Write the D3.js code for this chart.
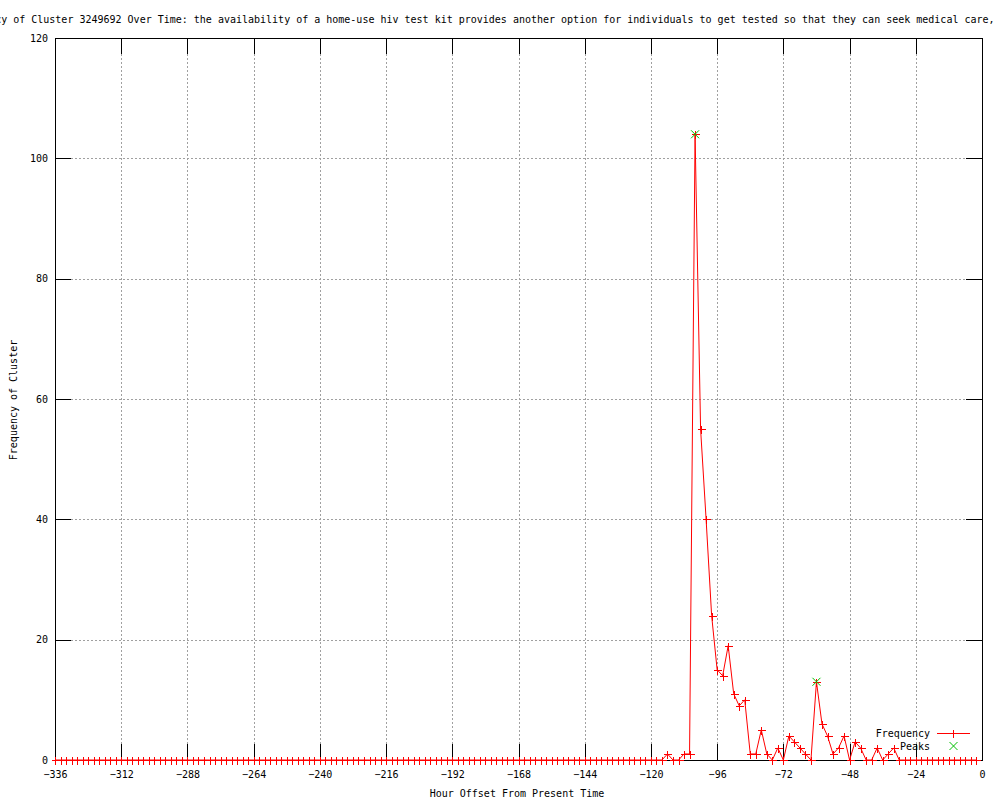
<!DOCTYPE html>
<html lang="en">
<head>
<meta charset="UTF-8">
<script src="https://d3js.org/d3.v7.min.js"></script>
<style>
  body { margin: 0; background: #fff; }
  svg text { font-family: "DejaVu Sans Mono", monospace; font-size: 10px; fill: #000; }
</style>
</head>
<body>
<div id="chart"></div>
<script>
// hours run from -336 to 0 in 2-hour bins
const hours = d3.range(-336, 1, 2);

// frequency per bin (169 values)
const freq = [
  0,0,0,0,0,0,0,0,0,0,0,0,0,0,0,0,0,0,0,0,0,0,0,0,0,0,0,0,0,0,0,0,0,0,0,0,0,0,0,0,   // -336 .. -258
  0,0,0,0,0,0,0,0,0,0,0,0,0,0,0,0,0,0,0,0,0,0,0,0,0,0,0,0,0,0,0,0,0,0,0,0,0,0,0,0,   // -256 .. -178
  0,0,0,0,0,0,0,0,0,0,0,0,0,0,0,0,0,0,0,0,0,0,0,0,0,0,0,0,0,0,0,                     // -176 .. -116
  1,0,0,1,1,104,55,40,24,15,14,19,11,9,10,1,1,5,1,0,2,0,4,3,2,1,0,                    // -114 .. -62
  13,6,4,1,2,4,0,3,2,0,0,2,0,1,2,0,                                                    // -60 .. -30
  0,0,0,0,0,0,0,0,0,0,0,0,0,0                                                          // -28 .. 0
];

const peakHours = [-104, -60];
const peakValues = [104, 13];

const xTicks = [-336, -312, -288, -264, -240, -216, -192, -168, -144, -120, -96, -72, -48, -24, 0];
const yTicks = [0, 20, 40, 60, 80, 100, 120];

const title = "Frequency of Cluster 3249692 Over Time: the availability of a home-use hiv test kit provides another option for individuals to get tested so that they can seek medical care, including treatment";

const width = 1000, height = 800;
const plotL = 55, plotR = 982, plotT = 38, plotB = 760;
const tickLen = 16;

const svg = d3.select("#chart").append("svg")
  .attr("width", width)
  .attr("height", height);

const x = d3.scaleLinear().domain([-336, 0]).range([plotL, plotR]);
const y = d3.scaleLinear().domain([0, 120]).range([plotB, plotT]);

// grid
const grid = svg.append("g").attr("shape-rendering", "crispEdges");
grid.selectAll(".gx").data(xTicks.slice(1, -1)).join("line")
  .attr("x1", d => Math.round(x(d)) + 0.5).attr("x2", d => Math.round(x(d)) + 0.5)
  .attr("y1", plotT + tickLen).attr("y2", plotB - tickLen)
  .attr("stroke", "#a0a0a0").attr("stroke-dasharray", "2,2");
grid.selectAll(".gy").data(yTicks.slice(1, -1)).join("line")
  .attr("y1", d => Math.round(y(d)) + 0.5).attr("y2", d => Math.round(y(d)) + 0.5)
  .attr("x1", plotL + tickLen).attr("x2", plotR - tickLen)
  .attr("stroke", "#a0a0a0").attr("stroke-dasharray", "2,2");

// axes (ticks inward, mirrored)
const axes = svg.append("g").attr("shape-rendering", "crispEdges");
const bottomAxis = axes.append("g").attr("transform", `translate(0,${plotB})`)
  .call(d3.axisBottom(x).tickValues(xTicks).tickSizeInner(-tickLen).tickSizeOuter(0).tickFormat(d3.format("d")));
const topAxis = axes.append("g").attr("transform", `translate(0,${plotT})`)
  .call(d3.axisTop(x).tickValues(xTicks).tickSizeInner(-tickLen).tickSizeOuter(0).tickFormat(""));
const leftAxis = axes.append("g").attr("transform", `translate(${plotL},0)`)
  .call(d3.axisLeft(y).tickValues(yTicks).tickSizeInner(-tickLen).tickSizeOuter(0));
const rightAxis = axes.append("g").attr("transform", `translate(${plotR},0)`)
  .call(d3.axisRight(y).tickValues(yTicks).tickSizeInner(-tickLen).tickSizeOuter(0).tickFormat(""));

axes.selectAll(".domain").remove();
axes.selectAll("line").attr("stroke", "#000");
axes.selectAll("text").attr("font-family", null).attr("font-size", null).attr("fill", "#000");
bottomAxis.selectAll("text").attr("dy", null).attr("y", 18);
leftAxis.selectAll("text").attr("x", -7).attr("dy", "0.32em");
// drop the ticks that sit on the border corners
bottomAxis.selectAll(".tick").filter(d => d === -336 || d === 0).select("line").remove();
topAxis.selectAll(".tick").filter(d => d === -336 || d === 0).select("line").remove();
leftAxis.selectAll(".tick").filter(d => d === 0 || d === 120).select("line").remove();
rightAxis.selectAll(".tick").filter(d => d === 0 || d === 120).select("line").remove();

// border
svg.append("rect")
  .attr("x", plotL + 0.5).attr("y", plotT + 0.5)
  .attr("width", plotR - plotL).attr("height", plotB - plotT)
  .attr("fill", "none").attr("stroke", "#000")
  .attr("shape-rendering", "crispEdges");

// frequency line
const pts = hours.map((h, i) => [h, freq[i]]);
svg.append("path")
  .datum(pts)
  .attr("fill", "none")
  .attr("stroke", "#ff0000")
  .attr("stroke-width", 1)
  .attr("d", d3.line().x(d => x(d[0])).y(d => y(d[1])));

// plus markers
const ms = 4;
svg.append("g").selectAll("path").data(pts).join("path")
  .attr("d", d => {
    const cx = Math.round(x(d[0])) + 0.5, cy = Math.round(y(d[1])) + 0.5;
    return `M${cx - ms},${cy}H${cx + ms}M${cx},${cy - ms}V${cy + ms}`;
  })
  .attr("stroke", "#ff0000").attr("fill", "none")
  .attr("shape-rendering", "crispEdges");

// peaks
const cross = (cx, cy) => `M${cx - ms},${cy - ms}L${cx + ms},${cy + ms}M${cx - ms},${cy + ms}L${cx + ms},${cy - ms}`;
svg.append("g").selectAll("path").data(peakHours.map((h, i) => [h, peakValues[i]])).join("path")
  .attr("d", d => cross(x(d[0]), y(d[1])))
  .attr("stroke", "#00c000").attr("fill", "none");

// legend
const lg = svg.append("g");
lg.append("text").attr("x", 930).attr("y", 733).attr("dy", "0.35em").attr("text-anchor", "end").text("Frequency");
lg.append("line").attr("x1", 937).attr("x2", 970).attr("y1", 733.5).attr("y2", 733.5)
  .attr("stroke", "#ff0000").attr("shape-rendering", "crispEdges");
lg.append("path").attr("d", `M953.5,${733.5 - ms}V${733.5 + ms}`).attr("stroke", "#ff0000").attr("shape-rendering", "crispEdges");
lg.append("text").attr("x", 930).attr("y", 746).attr("dy", "0.35em").attr("text-anchor", "end").text("Peaks");
lg.append("path").attr("d", cross(953.5, 746)).attr("stroke", "#00c000").attr("fill", "none");

// title and axis labels
svg.append("text").attr("x", -47).attr("y", 23).text(title);
svg.append("text").attr("x", 517).attr("y", 797).attr("text-anchor", "middle").text("Hour Offset From Present Time");
svg.append("text")
  .attr("transform", "translate(17,400) rotate(-90)")
  .attr("text-anchor", "middle")
  .text("Frequency of Cluster");
</script>
</body>
</html>
